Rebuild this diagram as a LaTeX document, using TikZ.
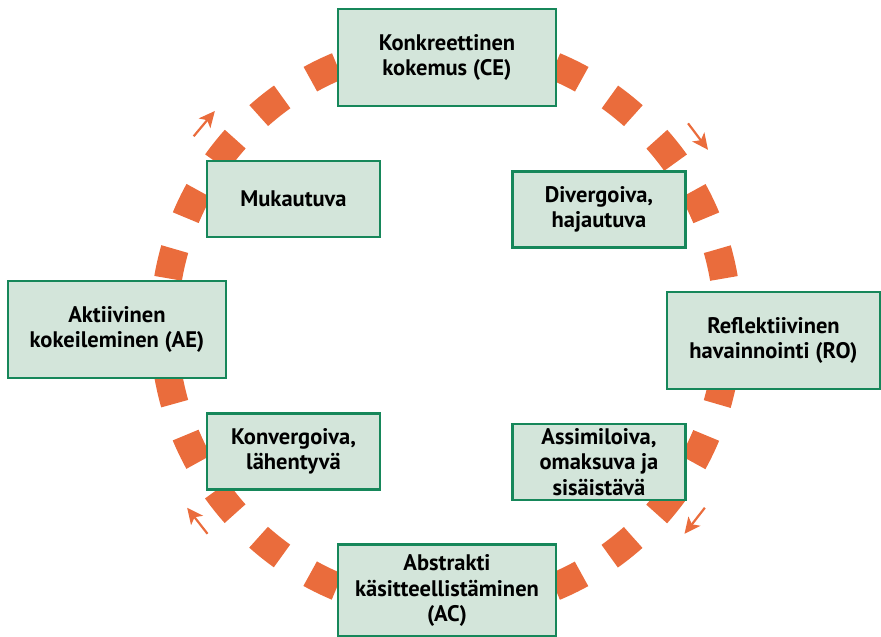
\documentclass[tikz,border=0pt]{standalone}
\usepackage{fontspec}
\setmainfont{PT Sans}
\usetikzlibrary{arrows.meta, calc}
\definecolor{cycleorange}{RGB}{234, 108, 60}
\definecolor{boxgreen}{RGB}{22, 135, 90}
\definecolor{boxfill}{RGB}{211, 229, 218}

\tikzset{
  stage/.style={draw=boxgreen, line width=2.2pt, fill=boxfill, align=center,
    font=\fontsize{22.5}{25.5}\selectfont\bfseries, inner sep=0pt},
  bigstage/.style={stage, minimum width=218pt, minimum height=97pt},
  smallstage/.style={stage, minimum width=173pt, minimum height=76pt},
  turn/.style={cycleorange, line width=2.2pt,
    -{Stealth[length=16pt, width=15pt, inset=4pt]}}
}

\begin{document}
\begin{tikzpicture}[x=1pt, y=1pt]
  \useasboundingbox (0,0) rectangle (881,637);
  \coordinate (ring) at (446,310.5);

  % dashed cycle behind the boxes
  \draw[cycleorange, line width=28pt, dash pattern=on 30pt off 33.28pt,
      dash phase=15pt] (ring) circle[radius=282pt];

  % direction marks, clockwise
  \foreach \a [count=\i] in {140, 37, -38, -142} {
    \coordinate (from\i) at ($(ring)+(\a+3:316pt)$);
    \coordinate (to\i) at ($(ring)+(\a-3:316pt)$);
    \draw[turn] (from\i) -- (to\i);
  }

  % the four modes
  \node[bigstage] (ce) at (447,579.5) {Konkreettinen\\kokemus (CE)};
  \node[bigstage] (ae) at (117,307.5) {Aktiivinen\\kokeileminen (AE)};
  \node[bigstage, minimum width=213pt] (ro) at (773.5,296.5)
      {Reflektiivinen\\havainnointi (RO)};
  \node[bigstage, minimum height=92pt] (ac) at (447,46.5)
      {Abstrakti\\käsitteellistäminen\\(AC)};

  % the four styles
  \node[smallstage] (muk) at (293.5,438) {Mukautuva};
  \node[smallstage] (div) at (599,427.5) {Divergoiva,\\hajautuva};
  \node[smallstage] (konv) at (293.5,185.5) {Konvergoiva,\\lähentyvä};
  \node[smallstage] (assim) at (599,175) {Assimiloiva,\\omaksuva ja\\sisäistävä};
\end{tikzpicture}
\end{document}
